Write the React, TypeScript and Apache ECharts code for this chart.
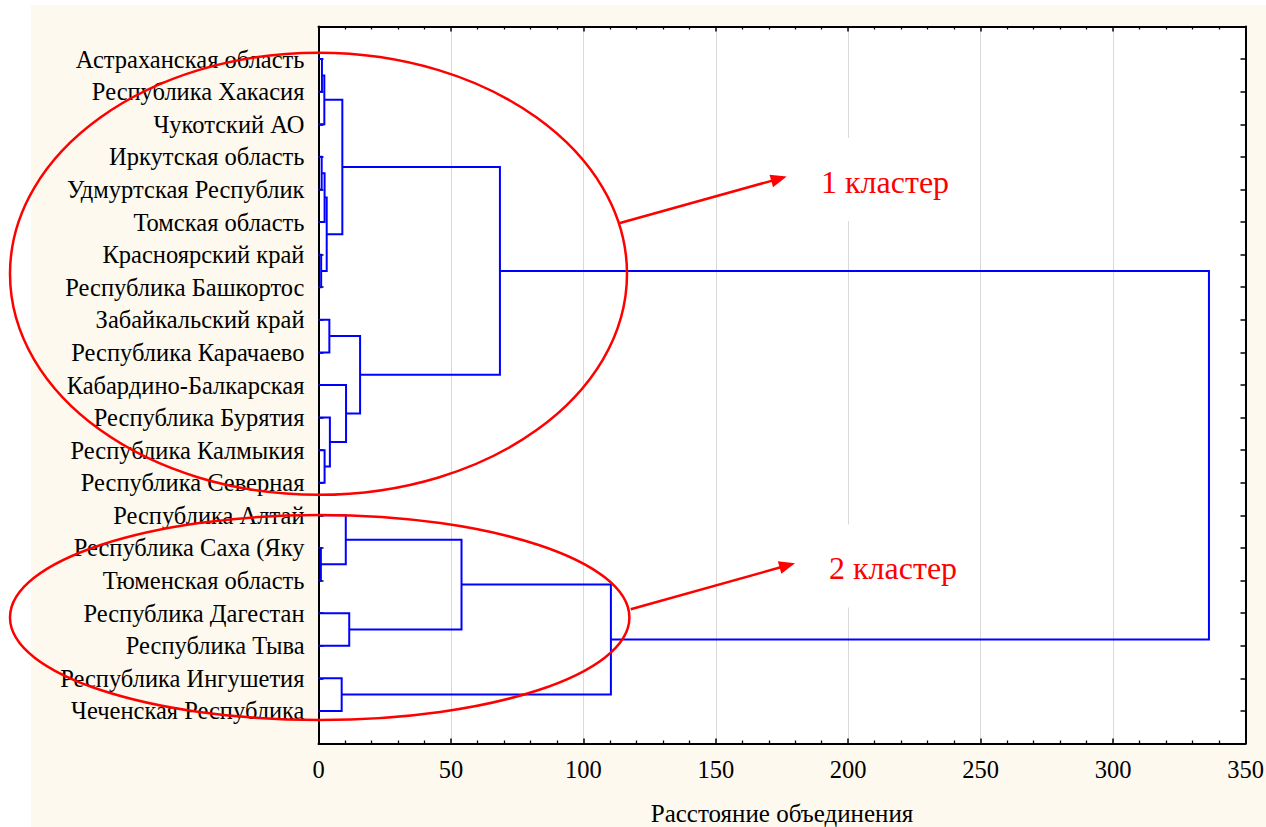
import React, { useEffect, useRef } from "react";
import * as echarts from "echarts";

// Leaves of the dendrogram, top to bottom
const leaves = [
  "Астраханская область",
  "Республика Хакасия",
  "Чукотский АО",
  "Иркутская область",
  "Удмуртская Республик",
  "Томская область",
  "Красноярский край",
  "Республика Башкортос",
  "Забайкальский край",
  "Республика Карачаево",
  "Кабардино-Балкарская",
  "Республика Бурятия",
  "Республика Калмыкия",
  "Республика Северная",
  "Республика Алтай",
  "Республика Саха (Яку",
  "Тюменская область",
  "Республика Дагестан",
  "Республика Тыва",
  "Республика Ингушетия",
  "Чеченская Республика",
];

// Merge steps: node ids 0..20 are leaves, merge i creates node 21 + i
const mergeLeft = [0, 21, 3, 23, 6, 24, 22, 8, 12, 11, 10, 28, 27, 15, 14, 17, 35, 19, 37, 33];
const mergeRight = [1, 2, 4, 5, 7, 25, 26, 9, 13, 29, 30, 31, 32, 16, 34, 18, 36, 20, 38, 39];
const mergeDistance = [
  1.3, 2.2, 1.2, 2.3, 1.0, 3.1, 9.0, 4.1, 2.3, 4.3, 10.4, 15.7, 68.5, 0.9, 10.3, 11.6, 54.0,
  8.75, 110.4, 336.2,
];

const xMin = 0;
const xMax = 350;
const xStep = 50;
const axisTitle = "Расстояние объединения";
const clusterLabels = ["1 кластер", "2 кластер"];

const SERIF = '"Liberation Serif", "Times New Roman", serif';

function buildLinks() {
  const nodeY: number[] = leaves.map((_, i) => i + 1);
  const nodeH: number[] = leaves.map(() => 0);
  const links: number[][][] = [];
  mergeLeft.forEach((l, i) => {
    const r = mergeRight[i];
    const d = mergeDistance[i];
    links.push([
      [nodeH[l], nodeY[l]],
      [d, nodeY[l]],
      [d, nodeY[r]],
      [nodeH[r], nodeY[r]],
    ]);
    nodeY.push((nodeY[l] + nodeY[r]) / 2);
    nodeH.push(d);
  });
  return links;
}

function arrow(x1: number, y1: number, x2: number, y2: number) {
  const dx = x2 - x1;
  const dy = y2 - y1;
  const len = Math.sqrt(dx * dx + dy * dy);
  const ux = dx / len;
  const uy = dy / len;
  const hl = 16;
  const hw = 6.5;
  const bx = x2 - ux * hl;
  const by = y2 - uy * hl;
  return [
    {
      type: "line",
      z: 100,
      shape: { x1, y1, x2: bx + ux * 2, y2: by + uy * 2 },
      style: { stroke: "#ff0000", lineWidth: 2.5 },
    },
    {
      type: "polygon",
      z: 100,
      shape: {
        points: [
          [x2, y2],
          [bx - uy * hw, by + ux * hw],
          [bx + uy * hw, by - ux * hw],
        ],
      },
      style: { fill: "#ff0000" },
    },
  ];
}

export default function App() {
  const ref = useRef<HTMLDivElement>(null);

  useEffect(() => {
    if (!ref.current) return;
    const chart = echarts.init(ref.current, undefined, { renderer: "svg" });
    const links = buildLinks();
    const axisLineStyle = { color: "#000", width: 2 };

    const option: any = {
      animation: false,
      backgroundColor: "#FDF9EE",
      grid: {
        left: 318.5,
        top: 26.5,
        width: 927,
        height: 717,
        containLabel: false,
        outerBoundsMode: "none",
        show: true,
        backgroundColor: "#ffffff",
        borderWidth: 0,
      },
      xAxis: [
        {
          type: "value",
          position: "bottom",
          min: xMin,
          max: xMax,
          interval: xStep,
          axisLine: { show: true, onZero: false, lineStyle: axisLineStyle },
          axisTick: { show: true, inside: true, length: 5, lineStyle: { color: "#000", width: 1.5 } },
          minorTick: { show: true, splitNumber: 5, length: 3, lineStyle: { color: "#000", width: 1.3 } },
          splitLine: { show: true, lineStyle: { color: "#d9d9d9", width: 1 } },
          axisLabel: { color: "#000", fontFamily: SERIF, fontSize: 24.5, margin: 13 },
          name: axisTitle,
          nameLocation: "middle",
          nameGap: 57,
          nameTextStyle: { color: "#000", fontFamily: SERIF, fontSize: 25 },
        },
        {
          type: "value",
          position: "top",
          min: xMin,
          max: xMax,
          interval: xStep,
          axisLine: { show: true, onZero: false, lineStyle: axisLineStyle },
          axisTick: { show: true, inside: true, length: 5, lineStyle: { color: "#000", width: 1.5 } },
          minorTick: { show: true, splitNumber: 5, length: 3, lineStyle: { color: "#000", width: 1.3 } },
          splitLine: { show: false },
          axisLabel: { show: false },
        },
      ],
      yAxis: [
        {
          type: "value",
          position: "left",
          inverse: true,
          min: 0,
          max: leaves.length + 1,
          interval: 1,
          axisLine: { show: true, onZero: false, lineStyle: axisLineStyle },
          axisTick: { show: true, inside: true, length: 5, lineStyle: { color: "#000", width: 1.5 } },
          splitLine: { show: false },
          axisLabel: {
            color: "#000",
            fontFamily: SERIF,
            fontSize: 24.5,
            margin: 14,
            formatter: (v: number) => leaves[Math.round(v) - 1] ?? "",
          },
        },
        {
          type: "value",
          position: "right",
          inverse: true,
          min: 0,
          max: leaves.length + 1,
          interval: 1,
          axisLine: { show: true, onZero: false, lineStyle: axisLineStyle },
          axisTick: { show: true, inside: true, length: 5, lineStyle: { color: "#000", width: 1.5 } },
          splitLine: { show: false },
          axisLabel: { show: false },
        },
      ],
      series: [
        {
          type: "lines",
          coordinateSystem: "cartesian2d",
          xAxisIndex: 0,
          yAxisIndex: 0,
          polyline: true,
          silent: true,
          z: 5,
          lineStyle: { color: "#0000ff", width: 2, opacity: 1 },
          data: links.map((c) => ({ coords: c })),
        },
      ],
      graphic: [
        { type: "rect", z: 1, shape: { x: 0, y: 0, width: 1266, height: 5 }, style: { fill: "#ffffff" } },
        { type: "rect", z: 1, shape: { x: 0, y: 0, width: 31, height: 827 }, style: { fill: "#ffffff" } },
        { type: "rect", z: 50, shape: { x: 800, y: 138, width: 170, height: 83 }, style: { fill: "#ffffff" } },
        { type: "rect", z: 50, shape: { x: 808, y: 524.5, width: 170, height: 83 }, style: { fill: "#ffffff" } },
        {
          type: "ellipse",
          z: 100,
          shape: { cx: 318.5, cy: 273.8, rx: 308.5, ry: 221 },
          style: { fill: "none", stroke: "#ff0000", lineWidth: 2.5 },
        },
        {
          type: "ellipse",
          z: 100,
          shape: { cx: 319.7, cy: 617.5, rx: 309.7, ry: 102.5 },
          style: { fill: "none", stroke: "#ff0000", lineWidth: 2.5 },
        },
        ...arrow(620, 223, 786.7, 176.6),
        ...arrow(630.7, 609.3, 795, 563.3),
        {
          type: "text",
          z: 101,
          style: {
            text: clusterLabels[0],
            x: 821,
            y: 181.5,
            font: `32px ${SERIF}`,
            fill: "#ff0000",
            align: "left",
            verticalAlign: "middle",
          },
        },
        {
          type: "text",
          z: 101,
          style: {
            text: clusterLabels[1],
            x: 829,
            y: 568,
            font: `32px ${SERIF}`,
            fill: "#ff0000",
            align: "left",
            verticalAlign: "middle",
          },
        },
      ],
    };

    chart.setOption(option);
    return () => chart.dispose();
  }, []);

  return (
    <div
      ref={ref}
      style={{ position: "fixed", left: 0, top: 0, width: 1266, height: 827 }}
    />
  );
}
